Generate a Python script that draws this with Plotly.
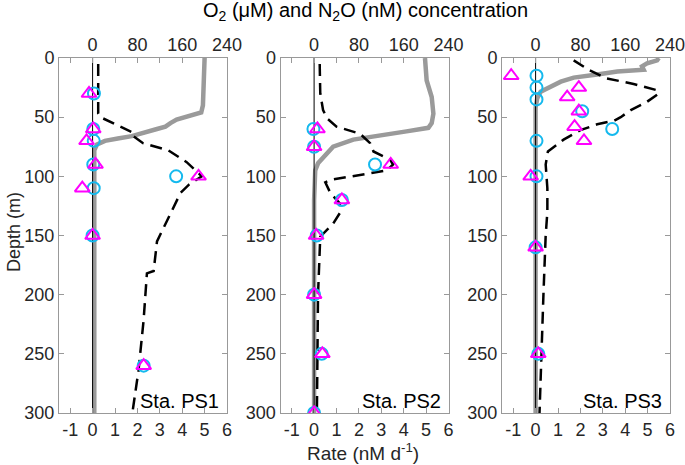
import plotly.graph_objects as go

# ---------------- data ----------------
stations = ["Sta. PS1", "Sta. PS2", "Sta. PS3"]

rate_ticks = [-1, 0, 1, 2, 3, 4, 5, 6]
conc_ticks = [0, 80, 160, 240]
depth_ticks = [0, 50, 100, 150, 200, 250, 300]

# O2 (uM) profiles
ps1_o2_depth = [0, 20, 40, 46, 49, 52, 55, 58, 60, 63, 66, 68, 70, 73, 78, 150, 200, 250, 300]
ps1_o2_conc = [200, 199, 197, 194, 170, 150, 139, 130, 115, 90, 70, 45, 22, 8, 3, 3, 3, 3, 3]
ps2_o2_depth = [0, 19, 33, 47, 55, 59, 62, 65, 69, 75, 81, 89, 95, 120, 200, 300]
ps2_o2_conc = [198, 201, 210, 213, 210, 204, 165, 118, 70, 34, 23, 7, 2, 0, 0, 0]
ps3_o2_depth = [0, 2, 4.5, 7, 10, 11.5, 14, 16.6, 20, 24, 28.5, 34, 42, 100, 200, 300]
ps3_o2_conc = [220, 217, 199, 190, 193, 146, 110, 68, 45, 27, 9, 3, 0, 0, 0, 0]

# N2O (nM) profiles
ps1_n2o_depth = [5, 47, 50, 63, 65, 72, 78, 88, 100, 107, 114, 145, 155, 180, 182, 222, 264, 300]
ps1_n2o_conc = [10, 10, 14, 72, 70, 90, 135, 168, 195, 172, 157, 126, 115, 109, 97, 91, 82, 71]
ps2_n2o_depth = [5, 30, 44, 51, 58, 64, 72, 79, 86, 90, 95, 103, 105, 114, 123, 131, 140, 151, 200, 250, 300]
ps2_n2o_conc = [10, 11, 16, 23, 40, 82, 100, 106, 136, 141, 130, 29, 20, 29, 46, 46, 34, 11, 7, 6, 5]
ps3_n2o_depth = [2, 10, 17, 22, 27, 30, 37, 44, 50, 53, 56, 61, 69, 79, 90, 110, 130, 150, 200, 250, 300]
ps3_n2o_conc = [68, 95, 125, 175, 215, 220, 199, 170, 152, 140, 110, 80, 50, 22, 18, 21, 21, 18, 14, 11, 7]

# Rates (nM d-1): circles and triangles
ps1_circ_depth = [30, 60, 70, 90, 100, 110, 150, 260]
ps1_circ_rate = [0.06, 0.03, 0.05, 0.03, 3.73, 0.05, 0.0, 2.28]
ps1_tri_depth = [30, 60, 70, 90, 100, 110, 150, 260]
ps1_tri_rate = [-0.16, 0.03, -0.27, 0.13, 4.73, -0.46, 0.0, 2.28]
ps2_circ_depth = [60, 75, 90, 120, 150, 200, 250, 300]
ps2_circ_rate = [-0.03, 0.0, 2.72, 1.24, 0.12, 0.0, 0.34, 0.0]
ps2_tri_depth = [60, 75, 90, 120, 150, 200, 250, 300]
ps2_tri_rate = [0.15, 0.0, 3.42, 1.24, 0.09, 0.0, 0.37, 0.0]
ps3_circ_depth = [15, 25, 35, 45, 60, 70, 100, 160, 250]
ps3_circ_rate = [0.04, 0.04, 0.04, 2.08, 3.42, 0.04, 0.04, 0.0, 0.12]
ps3_tri_depth = [15, 25, 33, 45, 58, 70, 100, 160, 250]
ps3_tri_rate = [-1.09, 1.93, 1.41, 1.93, 1.74, 2.16, -0.22, 0.0, 0.12]

o2 = [(ps1_o2_depth, ps1_o2_conc), (ps2_o2_depth, ps2_o2_conc), (ps3_o2_depth, ps3_o2_conc)]
n2o = [(ps1_n2o_depth, ps1_n2o_conc), (ps2_n2o_depth, ps2_n2o_conc), (ps3_n2o_depth, ps3_n2o_conc)]
circ = [(ps1_circ_depth, ps1_circ_rate), (ps2_circ_depth, ps2_circ_rate), (ps3_circ_depth, ps3_circ_rate)]
tri = [(ps1_tri_depth, ps1_tri_rate), (ps2_tri_depth, ps2_tri_rate), (ps3_tri_depth, ps3_tri_rate)]

# ---------------- layout ----------------
W, H = 685, 465
FONT = "Liberation Sans, Arial, Helvetica, sans-serif"
TXT = "#262626"
LINE = "#999999"
GREY = "#9a9a9a"
CYAN = "#14B9EE"
MAG = "#FF00FF"
TICKSIZE = 18

panels_px = [(59, 227), (280.5, 448.5), (502, 670)]
top_px, bot_px = 58, 413
ydom = [1 - bot_px / H, 1 - top_px / H]

fig = go.Figure()
layout = dict(
    width=W, height=H, margin=dict(l=0, r=0, t=0, b=0, autoexpand=False),
    paper_bgcolor="white", plot_bgcolor="white",
    showlegend=False, font=dict(family=FONT, size=TICKSIZE, color=TXT),
)


def axes_names(i):
    xc = "x" if i == 0 else f"x{2*i+1}"
    xr = f"x{2*i+2}"
    yy = "y" if i == 0 else f"y{i+1}"
    return xc, xr, yy


for i in range(3):
    xc, xr, yy = axes_names(i)
    xc_key = "xaxis" if i == 0 else f"xaxis{2*i+1}"
    xr_key = f"xaxis{2*i+2}"
    y_key = "yaxis" if i == 0 else f"yaxis{i+1}"
    x0, x1 = panels_px[i]
    xdom = [x0 / W, x1 / W]

    layout[xc_key] = dict(
        domain=xdom, anchor=yy, side="top", range=[-60, 240],
        tickvals=conc_ticks, ticks="", showline=False, showgrid=False,
        zeroline=False, automargin=False, ticklabelstandoff=2,
        ticklabeloverflow="allow",
        tickfont=dict(size=TICKSIZE, color=TXT),
    )
    layout[xr_key] = dict(
        overlaying=xc, anchor=yy, side="bottom", range=[-1.5, 6],
        tickvals=rate_ticks, ticktext=[str(t) for t in rate_ticks],
        ticks="inside", ticklen=5, tickcolor=LINE, tickwidth=1,
        showline=True, linecolor=LINE, linewidth=1, mirror="ticks",
        showgrid=False, zeroline=False, automargin=False,
        ticklabeloverflow="allow",
        tickfont=dict(size=TICKSIZE, color=TXT),
    )
    layout[y_key] = dict(
        domain=ydom, anchor=xc, range=[300, 0], tickvals=depth_ticks,
        ticks="inside", ticklen=5, tickcolor=LINE, tickwidth=1,
        showline=True, linecolor=LINE, linewidth=1, mirror="ticks",
        showgrid=False, zeroline=False, automargin=False,
        ticklabeloverflow="allow",
        tickfont=dict(size=TICKSIZE, color=TXT),
    )

    # zero reference line on the rate axis
    fig.add_trace(go.Scatter(x=[0, 0], y=[0, 300], mode="lines",
                             line=dict(color="black", width=1),
                             xaxis=xr, yaxis=yy, hoverinfo="skip"))

for i in range(3):
    xc, xr, yy = axes_names(i)
    d, c = o2[i]
    fig.add_trace(go.Scatter(x=c, y=d, mode="lines", line=dict(color=GREY, width=4.5),
                             xaxis=xc, yaxis=yy))
    d, c = n2o[i]
    fig.add_trace(go.Scatter(x=c, y=d, mode="lines",
                             line=dict(color="black", width=2.5, dash="12px,7px"),
                             xaxis=xc, yaxis=yy))
    d, r = circ[i]
    fig.add_trace(go.Scatter(x=r, y=d, mode="markers",
                             marker=dict(symbol="circle-open", size=12, color=CYAN,
                                         line=dict(width=2, color=CYAN)),
                             xaxis=xr, yaxis=yy))
    d, r = tri[i]
    fig.add_trace(go.Scatter(x=r, y=d, mode="markers",
                             marker=dict(symbol="triangle-up-open", size=13, color=MAG,
                                         line=dict(width=2, color=MAG)),
                             xaxis=xr, yaxis=yy))

annotations = [
    dict(text="O<sub>2</sub> (μM) and N<sub>2</sub>O (nM) concentration",
         x=365 / W, y=1 - 12 / H, xref="paper", yref="paper",
         xanchor="center", yanchor="middle", showarrow=False,
         font=dict(size=20, color="black")),
    dict(text="Rate (nM d<sup>-1</sup>)",
         x=363 / W, y=1 - 452 / H, xref="paper", yref="paper",
         xanchor="center", yanchor="middle", showarrow=False,
         font=dict(size=19, color=TXT)),
    dict(text="Depth (m)", textangle=-90,
         x=14 / W, y=1 - 232 / H, xref="paper", yref="paper",
         xanchor="center", yanchor="middle", showarrow=False,
         font=dict(size=18, color=TXT)),
]
for i in range(3):
    x0, x1 = panels_px[i]
    annotations.append(dict(text=stations[i], x=(x1 - 6) / W, y=1 - 401 / H,
                            xref="paper", yref="paper", xanchor="right",
                            yanchor="middle", showarrow=False,
                            font=dict(size=20, color="black")))
layout["annotations"] = annotations
fig.update_layout(**layout)
fig.write_html(
    "out.html",
    config={"displayModeBar": False, "staticPlot": True},
    post_script="document.body.style.margin='0';document.body.style.overflow='hidden';",
)
